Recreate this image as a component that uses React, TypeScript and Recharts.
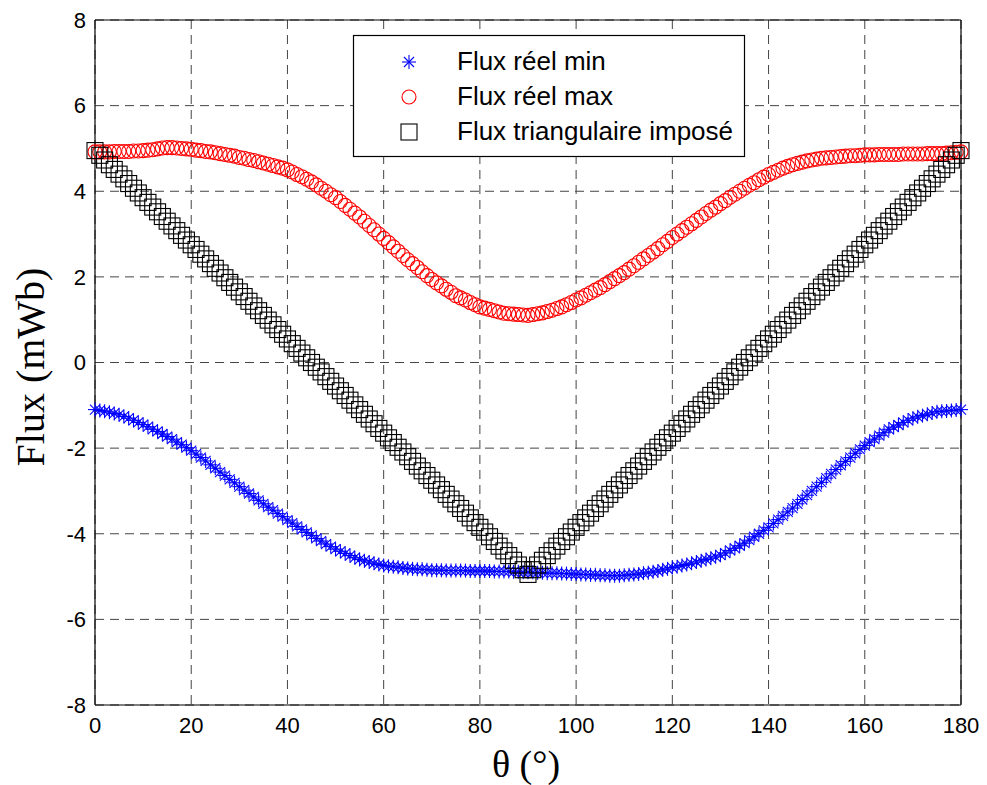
import React from 'react';
import { ScatterChart, Scatter, XAxis, YAxis, CartesianGrid, ReferenceLine } from 'recharts';

const THETA = [
  0, 1, 2, 3, 4, 5, 6, 7, 8, 9, 10, 11, 12, 13, 14, 15, 16, 17, 18, 19,
  20, 21, 22, 23, 24, 25, 26, 27, 28, 29, 30, 31, 32, 33, 34, 35, 36, 37, 38, 39,
  40, 41, 42, 43, 44, 45, 46, 47, 48, 49, 50, 51, 52, 53, 54, 55, 56, 57, 58, 59,
  60, 61, 62, 63, 64, 65, 66, 67, 68, 69, 70, 71, 72, 73, 74, 75, 76, 77, 78, 79,
  80, 81, 82, 83, 84, 85, 86, 87, 88, 89, 90, 91, 92, 93, 94, 95, 96, 97, 98, 99,
  100, 101, 102, 103, 104, 105, 106, 107, 108, 109, 110, 111, 112, 113, 114, 115, 116, 117, 118, 119,
  120, 121, 122, 123, 124, 125, 126, 127, 128, 129, 130, 131, 132, 133, 134, 135, 136, 137, 138, 139,
  140, 141, 142, 143, 144, 145, 146, 147, 148, 149, 150, 151, 152, 153, 154, 155, 156, 157, 158, 159,
  160, 161, 162, 163, 164, 165, 166, 167, 168, 169, 170, 171, 172, 173, 174, 175, 176, 177, 178, 179,
  180,
];

const FLUX_MIN = [
  -1.10, -1.12, -1.14, -1.16, -1.19, -1.22,
  -1.26, -1.30, -1.35, -1.40, -1.45,
  -1.50, -1.56, -1.61, -1.67, -1.73,
  -1.79, -1.86, -1.92, -1.99, -2.06,
  -2.14, -2.22, -2.30, -2.39, -2.47,
  -2.56, -2.64, -2.73, -2.81, -2.90,
  -2.98, -3.06, -3.14, -3.22, -3.30,
  -3.38, -3.45, -3.53, -3.60, -3.68,
  -3.75, -3.83, -3.90, -3.97, -4.04,
  -4.11, -4.17, -4.24, -4.30, -4.36,
  -4.41, -4.46, -4.51, -4.56, -4.60,
  -4.63, -4.66, -4.69, -4.72, -4.74,
  -4.76, -4.77, -4.78, -4.80, -4.81,
  -4.82, -4.83, -4.83, -4.84, -4.85,
  -4.85, -4.85, -4.86, -4.86, -4.86,
  -4.86, -4.86, -4.87, -4.87, -4.87,
  -4.87, -4.87, -4.88, -4.88, -4.88,
  -4.88, -4.89, -4.89, -4.90, -4.90,
  -4.90, -4.91, -4.91, -4.92, -4.92,
  -4.92, -4.93, -4.93, -4.94, -4.94,
  -4.95, -4.95, -4.96, -4.96, -4.97,
  -4.97, -4.98, -4.98, -4.98, -4.97,
  -4.96, -4.95, -4.94, -4.92, -4.91,
  -4.89, -4.87, -4.84, -4.82, -4.79,
  -4.77, -4.74, -4.72, -4.69, -4.66,
  -4.63, -4.60, -4.57, -4.54, -4.50,
  -4.45, -4.39, -4.34, -4.28, -4.22,
  -4.15, -4.07, -4.00, -3.92, -3.85,
  -3.76, -3.67, -3.58, -3.49, -3.40,
  -3.30, -3.20, -3.10, -3.00, -2.90,
  -2.80, -2.70, -2.60, -2.50, -2.40,
  -2.31, -2.22, -2.12, -2.03, -1.94,
  -1.86, -1.79, -1.71, -1.64, -1.56,
  -1.51, -1.46, -1.40, -1.35, -1.30,
  -1.27, -1.24, -1.21, -1.18, -1.15,
  -1.14, -1.13, -1.12, -1.11, -1.10,
];

const FLUX_MAX = [
  4.92, 4.92, 4.92, 4.92, 4.93, 4.93,
  4.93, 4.93, 4.94, 4.94, 4.95,
  4.96, 4.97, 4.99, 5.01, 5.02,
  5.02, 5.01, 5.00, 4.99, 4.98,
  4.96, 4.95, 4.93, 4.92, 4.90,
  4.88, 4.86, 4.84, 4.82, 4.79,
  4.77, 4.74, 4.72, 4.69, 4.66,
  4.63, 4.60, 4.57, 4.54, 4.50,
  4.45, 4.39, 4.34, 4.28, 4.22,
  4.15, 4.07, 4.00, 3.92, 3.85,
  3.76, 3.67, 3.58, 3.49, 3.40,
  3.30, 3.20, 3.10, 3.00, 2.90,
  2.80, 2.70, 2.60, 2.50, 2.40,
  2.31, 2.22, 2.12, 2.03, 1.94,
  1.86, 1.79, 1.71, 1.64, 1.56,
  1.51, 1.46, 1.40, 1.35, 1.30,
  1.27, 1.24, 1.21, 1.18, 1.15,
  1.14, 1.13, 1.12, 1.11, 1.10,
  1.12, 1.14, 1.16, 1.19, 1.22,
  1.26, 1.30, 1.35, 1.40, 1.46,
  1.51, 1.57, 1.63, 1.69, 1.75,
  1.82, 1.89, 1.96, 2.03, 2.10,
  2.18, 2.26, 2.34, 2.42, 2.50,
  2.58, 2.66, 2.75, 2.83, 2.92,
  3.00, 3.08, 3.16, 3.24, 3.32,
  3.40, 3.48, 3.56, 3.63, 3.71,
  3.78, 3.86, 3.93, 4.00, 4.07,
  4.14, 4.20, 4.27, 4.33, 4.39,
  4.44, 4.49, 4.54, 4.58, 4.62,
  4.65, 4.68, 4.71, 4.73, 4.75,
  4.77, 4.78, 4.79, 4.80, 4.81,
  4.82, 4.83, 4.83, 4.84, 4.85,
  4.85, 4.85, 4.86, 4.86, 4.86,
  4.86, 4.86, 4.87, 4.87, 4.87,
  4.87, 4.87, 4.88, 4.88, 4.88,
  4.88, 4.89, 4.90, 4.91, 4.92,
];

const FLUX_TRI = [
  4.95, 4.84, 4.73, 4.62, 4.51, 4.40, 4.29, 4.18, 4.07, 3.96,
  3.85, 3.74, 3.63, 3.52, 3.41, 3.30, 3.19, 3.08, 2.97, 2.86,
  2.75, 2.64, 2.53, 2.42, 2.31, 2.20, 2.09, 1.98, 1.87, 1.76,
  1.65, 1.54, 1.43, 1.32, 1.21, 1.10, 0.99, 0.88, 0.77, 0.66,
  0.55, 0.44, 0.33, 0.22, 0.11, 0.00, -0.11, -0.22, -0.33, -0.44,
  -0.55, -0.66, -0.77, -0.88, -0.99, -1.10, -1.21, -1.32, -1.43, -1.54,
  -1.65, -1.76, -1.87, -1.98, -2.09, -2.20, -2.31, -2.42, -2.53, -2.64,
  -2.75, -2.86, -2.97, -3.08, -3.19, -3.30, -3.41, -3.52, -3.63, -3.74,
  -3.85, -3.96, -4.07, -4.18, -4.29, -4.40, -4.51, -4.62, -4.73, -4.84,
  -4.95,
  -4.84, -4.73, -4.62, -4.51, -4.40, -4.29, -4.18, -4.07, -3.96, -3.85,
  -3.74, -3.63, -3.52, -3.41, -3.30, -3.19, -3.08, -2.97, -2.86, -2.75,
  -2.64, -2.53, -2.42, -2.31, -2.20, -2.09, -1.98, -1.87, -1.76, -1.65,
  -1.54, -1.43, -1.32, -1.21, -1.10, -0.99, -0.88, -0.77, -0.66, -0.55,
  -0.44, -0.33, -0.22, -0.11, 0.00, 0.11, 0.22, 0.33, 0.44, 0.55,
  0.66, 0.77, 0.88, 0.99, 1.10, 1.21, 1.32, 1.43, 1.54, 1.65,
  1.76, 1.87, 1.98, 2.09, 2.20, 2.31, 2.42, 2.53, 2.64, 2.75,
  2.86, 2.97, 3.08, 3.19, 3.30, 3.41, 3.52, 3.63, 3.74, 3.85,
  3.96, 4.07, 4.18, 4.29, 4.40, 4.51, 4.62, 4.73, 4.84, 4.95,
];

const X_TICKS = [0, 20, 40, 60, 80, 100, 120, 140, 160, 180];
const Y_TICKS = [-8, -6, -4, -2, 0, 2, 4, 6, 8];
const SERIES_NAMES = ['Flux réel min', 'Flux réel max', 'Flux triangulaire imposé'];

const minData = THETA.map((t, i) => ({ x: t, y: FLUX_MIN[i] }));
const maxData = THETA.map((t, i) => ({ x: t, y: FLUX_MAX[i] }));
const triData = THETA.map((t, i) => ({ x: t, y: FLUX_TRI[i] }));

const SANS = '"Liberation Sans", Arial, Helvetica, sans-serif';
const SERIF = '"Liberation Serif", "Times New Roman", serif';

const StarMark = ({ cx, cy }: any) => {
  const r = 7;
  const d = 5;
  return (
    <g stroke="#0000ff" strokeWidth={1.1}>
      <line x1={cx - r} y1={cy} x2={cx + r} y2={cy} />
      <line x1={cx} y1={cy - r} x2={cx} y2={cy + r} />
      <line x1={cx - d} y1={cy - d} x2={cx + d} y2={cy + d} />
      <line x1={cx - d} y1={cy + d} x2={cx + d} y2={cy - d} />
    </g>
  );
};

const CircleMark = ({ cx, cy }: any) => (
  <circle cx={cx} cy={cy} r={7} fill="none" stroke="#ff0000" strokeWidth={1.1} />
);

const SquareMark = ({ cx, cy }: any) => (
  <rect x={cx - 8} y={cy - 8} width={16} height={16} fill="none" stroke="#000000" strokeWidth={1.1} />
);

export default function App() {
  return (
    <div style={{ position: 'absolute', left: 0, top: 0, width: 987, height: 785, background: '#fff' }}>
      <ScatterChart
        width={987}
        height={785}
        margin={{ top: 20, right: 26, bottom: 40, left: 35 }}
      >
        <CartesianGrid stroke="#444" strokeDasharray="9 6" strokeWidth={1} />
        <XAxis
          type="number"
          dataKey="x"
          domain={[0, 180]}
          ticks={X_TICKS}
          height={40}
          axisLine={{ stroke: '#000', strokeWidth: 1.2 }}
          tickLine={false}
          tickSize={6}
          tickMargin={6}
          tick={{ fill: '#000', fontSize: 22, fontFamily: SANS }}
        />
        <YAxis
          type="number"
          dataKey="y"
          domain={[-8, 8]}
          ticks={Y_TICKS}
          width={60}
          axisLine={{ stroke: '#000', strokeWidth: 1.2 }}
          tickLine={false}
          tickSize={6}
          tickMargin={3}
          tick={{ fill: '#000', fontSize: 22, fontFamily: SANS }}
        />
        <ReferenceLine y={8} stroke="#000" strokeWidth={1.2} />
        <ReferenceLine x={180} stroke="#000" strokeWidth={1.2} />
        <Scatter name={SERIES_NAMES[0]} data={minData} shape={(p: any) => <StarMark cx={p.cx} cy={p.cy} />} isAnimationActive={false} />
        <Scatter name={SERIES_NAMES[1]} data={maxData} shape={(p: any) => <CircleMark cx={p.cx} cy={p.cy} />} isAnimationActive={false} />
        <Scatter name={SERIES_NAMES[2]} data={triData} shape={(p: any) => <SquareMark cx={p.cx} cy={p.cy} />} isAnimationActive={false} />
      </ScatterChart>
      <svg
        width={987}
        height={785}
        style={{ position: 'absolute', left: 0, top: 0, pointerEvents: 'none' }}
      >
        <text
          x={44}
          y={367}
          transform="rotate(-90, 44, 367)"
          textAnchor="middle"
          fontFamily={SERIF}
          fontSize={40}
          fill="#000"
        >
          Flux (mWb)
        </text>
        <text x={526} y={777} textAnchor="middle" fontFamily={SERIF} fontSize={38} fill="#000">
          θ (°)
        </text>
        <rect x={353.5} y={35.5} width={391} height={121} fill="#fff" stroke="#000" strokeWidth={1.2} />
        <StarMark cx={409} cy={62} />
        <CircleMark cx={409} cy={97} />
        <SquareMark cx={409} cy={132} />
        <text x={457} y={70} fontFamily={SANS} fontSize={26} fill="#000">{SERIES_NAMES[0]}</text>
        <text x={457} y={105} fontFamily={SANS} fontSize={26} fill="#000">{SERIES_NAMES[1]}</text>
        <text x={457} y={140} fontFamily={SANS} fontSize={26} fill="#000">{SERIES_NAMES[2]}</text>
      </svg>
    </div>
  );
}
